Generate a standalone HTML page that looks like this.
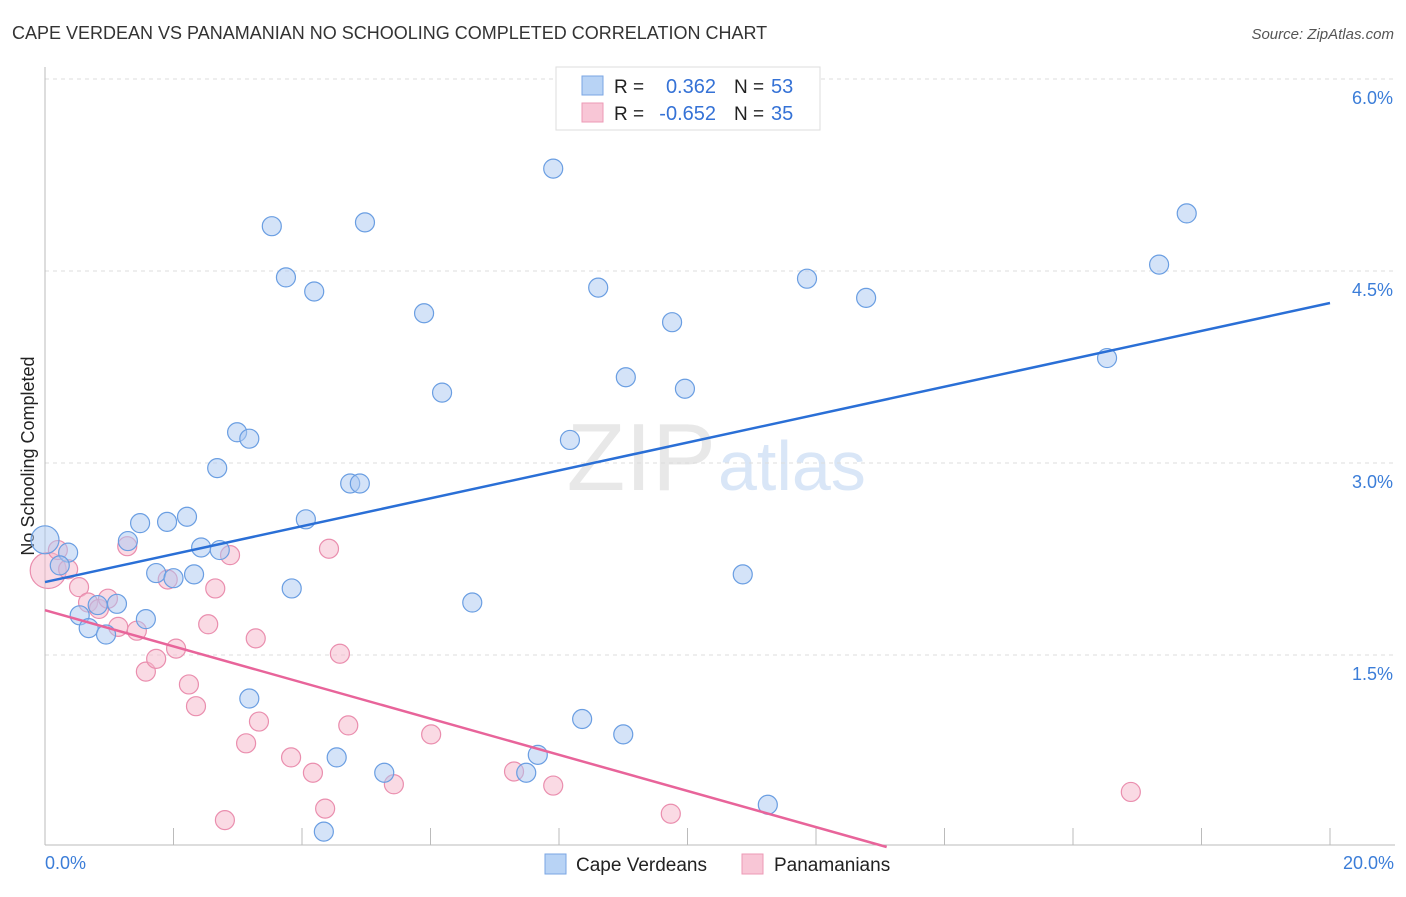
<!DOCTYPE html>
<html><head><meta charset="utf-8"><style>
body{margin:0;background:#fff;font-family:"Liberation Sans",sans-serif}
svg text{font-family:"Liberation Sans",sans-serif}
</style></head><body>
<svg id="chart" width="1406" height="892" xmlns="http://www.w3.org/2000/svg">
<text x="12" y="39" font-size="18" fill="#333">CAPE VERDEAN VS PANAMANIAN NO SCHOOLING COMPLETED CORRELATION CHART</text>
<text x="1394" y="39" font-size="15" fill="#555" font-style="italic" text-anchor="end">Source: ZipAtlas.com</text>
<text x="716" y="490" font-size="96" fill="#e8e8e8" text-anchor="end" font-family="Liberation Serif">ZIP</text>
<text x="718" y="490" font-size="70" fill="#d9e6f7">atlas</text>
<text transform="translate(34,456) rotate(-90)" font-size="18" fill="#222" text-anchor="middle">No Schooling Completed</text>
<g id="grid"></g><g id="axes"></g><g id="pts"></g><g id="trends"></g>
<g>
<rect x="556" y="67" width="264" height="63" fill="#fff" stroke="#ddd"/>
<rect x="582" y="76" width="21" height="19" fill="#b8d3f5" stroke="#7aa6e3"/>
<rect x="582" y="103" width="21" height="19" fill="#f8c6d6" stroke="#ec9ab6"/>
<text x="614" y="93" font-size="19" fill="#222">R =</text><text x="716" y="93" font-size="20" fill="#3572d6" text-anchor="end">0.362</text>
<text x="734" y="93" font-size="19" fill="#222">N =</text><text x="771" y="93" font-size="20" fill="#3572d6">53</text>
<text x="614" y="120" font-size="19" fill="#222">R =</text><text x="716" y="120" font-size="20" fill="#3572d6" text-anchor="end">-0.652</text>
<text x="734" y="120" font-size="19" fill="#222">N =</text><text x="771" y="120" font-size="20" fill="#3572d6">35</text>
</g>
<g>
<rect x="545" y="854" width="21" height="20" fill="#b8d3f5" stroke="#7aa6e3"/>
<text x="576" y="871" font-size="19" fill="#222">Cape Verdeans</text>
<rect x="742" y="854" width="21" height="20" fill="#f8c6d6" stroke="#ec9ab6"/>
<text x="774" y="871" font-size="19" fill="#222">Panamanians</text>
</g>
</svg>
<script>
const blueX=[0.00,0.36,0.23,0.54,0.68,0.82,0.95,1.12,1.29,1.48,1.57,1.73,1.90,2.00,2.21,2.32,2.43,2.68,2.72,2.99,3.18,3.18,3.53,3.75,3.84,4.06,4.19,4.34,4.54,4.75,4.90,4.98,5.28,5.90,6.18,6.65,7.49,7.67,7.91,8.17,8.36,8.61,9.00,9.04,9.76,9.96,10.86,11.25,11.86,12.78,16.53,17.34,17.77];
const blueY=[2.40,2.30,2.20,1.81,1.71,1.89,1.66,1.90,2.39,2.53,1.78,2.14,2.54,2.10,2.58,2.13,2.34,2.96,2.32,3.24,3.19,1.16,4.85,4.45,2.02,2.56,4.34,0.12,0.70,2.84,2.84,4.88,0.58,4.17,3.55,1.91,0.58,0.72,5.30,3.18,1.00,4.37,0.88,3.67,4.10,3.58,2.13,0.33,4.44,4.29,3.82,4.55,4.95];
const pinkX=[0.05,0.20,0.36,0.53,0.67,0.84,0.98,1.14,1.28,1.43,1.57,1.73,1.91,2.04,2.24,2.35,2.54,2.65,2.80,2.88,3.13,3.28,3.33,3.83,4.17,4.36,4.42,4.59,4.72,5.43,6.01,7.30,7.91,9.74,16.90];
const pinkY=[2.16,2.32,2.17,2.03,1.91,1.86,1.94,1.72,2.35,1.69,1.37,1.47,2.09,1.55,1.27,1.10,1.74,2.02,0.21,2.28,0.81,1.63,0.98,0.70,0.58,0.30,2.33,1.51,0.95,0.49,0.88,0.59,0.48,0.26,0.43];
const blueTrend=[[0,2.07],[20,4.25]];
const pinkTrend=[[0,1.85],[13.1,0.0]];
const yTicks=[1.5,3.0,4.5,6.0];
const yTickLabels=["1.5%","3.0%","4.5%","6.0%"];
const xTicks=[0,2,4,6,8,10,12,14,16,18,20];
const NS="http://www.w3.org/2000/svg";
const sx=v=>45+v*64.25, sy=v=>847-v*128;
function mk(tag,attrs,parent){const e=document.createElementNS(NS,tag);for(const k in attrs)e.setAttribute(k,attrs[k]);document.getElementById(parent).appendChild(e);return e;}
yTicks.forEach((t,i)=>{
 const l=mk('line',{x1:45,x2:1395,y1:sy(t),y2:sy(t),stroke:'#ddd','stroke-dasharray':'4,4'},'grid');
 
 
 const tx=mk('text',{x:1393,y:sy(t)+25,'font-size':18,fill:'#3b7dd8','text-anchor':'end'},'grid');
 tx.textContent=yTickLabels[i];
 
 
});
let a=mk('line',{x1:45,x2:45,y1:67,y2:845,stroke:'#bbb'},'axes');


a=mk('line',{x1:45,x2:1395,y1:845,y2:845,stroke:'#bbb'},'axes');


xTicks.forEach(t=>{
 const l=mk('line',{x1:sx(t),x2:sx(t),y1:828,y2:845,stroke:'#bbb'},'axes');
 
 
});
let t0=mk('text',{x:45,y:869,'font-size':18,fill:'#3b7dd8'},'axes');t0.textContent='0.0%';


let t1=mk('text',{x:1394,y:869,'font-size':18,fill:'#3b7dd8','text-anchor':'end'},'axes');t1.textContent='20.0%';


function pts(X,Y,fill,stroke,name,big){X.forEach((x,i)=>{
 const c=mk('circle',{cx:sx(x),cy:sy(Y[i]),r:(i===0?big:9.5),fill:fill,'fill-opacity':0.5,stroke:stroke,'stroke-width':1.2},'pts');
 
 
});}
pts(pinkX,pinkY,'#f5b5ca','#ea8eae','panamanian-point',18);
pts(blueX,blueY,'#a9c8f2','#6a9ee2','cape-verdean-point',14);
let bt=mk('line',{x1:sx(blueTrend[0][0]),y1:sy(blueTrend[0][1]),x2:sx(blueTrend[1][0]),y2:sy(blueTrend[1][1]),stroke:'#2a6fd6','stroke-width':2.5},'trends');


let pt=mk('line',{x1:sx(pinkTrend[0][0]),y1:sy(pinkTrend[0][1]),x2:sx(pinkTrend[1][0]),y2:sy(pinkTrend[1][1]),stroke:'#e8649a','stroke-width':2.5},'trends');


</script>
</body></html>
